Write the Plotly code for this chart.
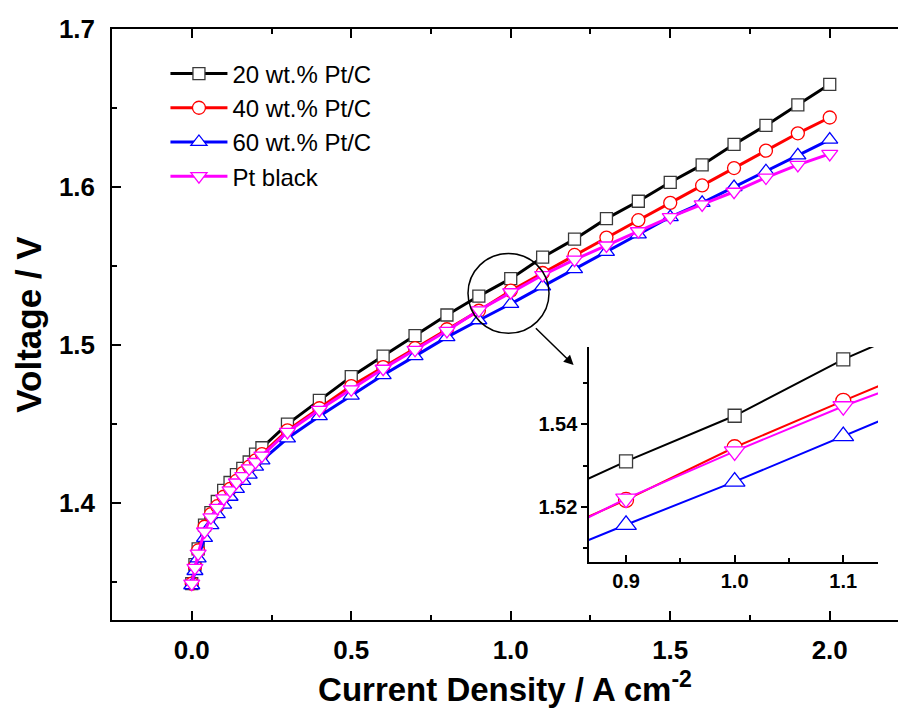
import plotly.graph_objects as go

current = [0, 0.01, 0.02, 0.04, 0.06, 0.08, 0.10, 0.12, 0.14, 0.16, 0.18, 0.20, 0.22,
           0.3, 0.4, 0.5, 0.6, 0.7, 0.8, 0.9, 1.0, 1.1, 1.2, 1.3, 1.4, 1.5, 1.6, 1.7, 1.8, 1.9, 2.0]

v_20 = [1.349, 1.361, 1.371, 1.386, 1.394, 1.401, 1.408, 1.413, 1.418, 1.422, 1.426, 1.431, 1.435,
        1.450, 1.465, 1.480, 1.493, 1.506, 1.519, 1.531, 1.542, 1.5556, 1.567, 1.580, 1.591,
        1.603, 1.614, 1.627, 1.639, 1.652, 1.665]
v_40 = [1.349, 1.360, 1.370, 1.385, 1.393, 1.398, 1.404, 1.409, 1.414, 1.419, 1.423, 1.427, 1.431,
        1.446, 1.460, 1.474, 1.486, 1.498, 1.510, 1.5217, 1.5344, 1.5456, 1.557, 1.568, 1.579,
        1.590, 1.601, 1.612, 1.623, 1.634, 1.644]
v_60 = [1.348, 1.357, 1.365, 1.378, 1.386, 1.393, 1.399, 1.404, 1.409, 1.414, 1.418, 1.423, 1.427,
        1.441, 1.455, 1.468, 1.481, 1.493, 1.505, 1.5157, 1.5261, 1.5371, 1.548, 1.559, 1.570,
        1.581, 1.590, 1.600, 1.610, 1.620, 1.630]
v_ptb = [1.349, 1.359, 1.368, 1.382, 1.391, 1.397, 1.403, 1.408, 1.413, 1.417, 1.422, 1.426, 1.430,
         1.445, 1.459, 1.472, 1.485, 1.497, 1.509, 1.5220, 1.5334, 1.5443, 1.554, 1.563, 1.572,
         1.581, 1.589, 1.597, 1.606, 1.614, 1.621]

names = ["20 wt.% Pt/C", "40 wt.% Pt/C", "60 wt.% Pt/C", "Pt black"]
series = [v_20, v_40, v_60, v_ptb]
colors = ["#000000", "#FF0000", "#0000FF", "#FF00FF"]
edge_colors = ["#3a3a3a", "#FF0000", "#0000FF", "#FF00FF"]
symbols = ["square", "circle", "triangle-up", "triangle-down"]
main_sizes = [12, 13, 14, 14]
inset_sizes = [13, 15, 18, 18]

FONT = "Liberation Sans, Arial, sans-serif"

fig = go.Figure()
for name, vals, col, ec, sym, ms in zip(names, series, colors, edge_colors, symbols, main_sizes):
    fig.add_trace(go.Scatter(
        x=current, y=vals, name=name, mode="lines+markers",
        line=dict(color=col, width=3),
        marker=dict(symbol=sym, size=ms, color="white", line=dict(color=ec, width=1.3)),
        xaxis="x", yaxis="y"))

for name, vals, col, ec, sym, ms in zip(names, series, colors, edge_colors, symbols, inset_sizes):
    fig.add_trace(go.Scatter(
        x=current, y=vals, name=name, mode="lines+markers", showlegend=False,
        line=dict(color=col, width=2),
        marker=dict(symbol=sym, size=ms, color="white", line=dict(color=ec, width=1.3)),
        xaxis="x2", yaxis="y2"))

axis_common = dict(showline=True, linecolor="black", linewidth=1.5, showgrid=False,
                   zeroline=False, ticks="inside", tickcolor="black", tickwidth=1.5,
                   color="black", automargin=False)

fig.update_layout(
    width=898, height=713,
    margin=dict(l=112, r=0, t=29, b=93),
    paper_bgcolor="white", plot_bgcolor="white",
    font=dict(family=FONT, color="black"),
    xaxis=dict(axis_common, range=[-0.25, 2.214], tickvals=[0, 0.5, 1.0, 1.5, 2.0],
               ticktext=["0.0", "0.5", "1.0", "1.5", "2.0"], ticklen=9, mirror="ticks",
               ticklabelstandoff=6,
               minor=dict(dtick=0.25, tick0=0, ticks="inside", ticklen=5, tickcolor="black"),
               tickfont=dict(size=26, family=FONT, weight="bold"),
               title=dict(text="<b>Current Density / A cm<sup>-2</sup></b>",
                          font=dict(size=33, family=FONT), standoff=14)),
    yaxis=dict(axis_common, range=[1.326, 1.7], tickvals=[1.4, 1.5, 1.6, 1.7],
               ticktext=["1.4", "1.5", "1.6", "1.7"], ticklen=9, ticklabelstandoff=10,
               minor=dict(dtick=0.05, tick0=1.35, ticks="inside", ticklen=5, tickcolor="black"),
               tickfont=dict(size=26, family=FONT, weight="bold"),
               title=dict(text="<b>Voltage / V</b>", font=dict(size=35, family=FONT), standoff=7)),
    xaxis2=dict(axis_common, domain=[0.607, 0.9746], anchor="y2", range=[0.866, 1.132],
                tickvals=[0.9, 1.0, 1.1], ticktext=["0.9", "1.0", "1.1"], ticklen=7,
                minor=dict(dtick=0.05, tick0=0.9, ticks="inside", ticklen=4, tickcolor="black"),
                tickfont=dict(size=20, family=FONT, weight="bold")),
    yaxis2=dict(axis_common, domain=[0.098, 0.462], anchor="x2", range=[1.5067, 1.5586],
                tickvals=[1.52, 1.54], ticktext=["1.52", "1.54"], ticks="outside", ticklen=6,
                minor=dict(dtick=0.01, tick0=1.51, ticks="outside", ticklen=4, tickcolor="black"),
                tickfont=dict(size=20, family=FONT, weight="bold")),
    legend=dict(x=0.068, y=0.962, xanchor="left", yanchor="top", bgcolor="rgba(0,0,0,0)",
                font=dict(size=24, family=FONT), tracegroupgap=0, itemwidth=57),
    showlegend=True,
)

# magnifier circle and arrow
fig.add_shape(type="circle", xref="x", yref="y",
              x0=0.993 - 0.127, x1=0.993 + 0.127, y0=1.5327 - 0.0253, y1=1.5327 + 0.0253,
              line=dict(color="black", width=1.5))
fig.add_annotation(x=1.197, y=1.4873, ax=1.074, ay=1.5116, xref="x", yref="y",
                   axref="x", ayref="y", showarrow=True, arrowhead=2, arrowsize=1.3,
                   arrowwidth=1.5, arrowcolor="black", text="")

fig.write_html("out.html", config={"displayModeBar": False},
               post_script="document.body.style.margin='0';document.body.style.overflow='hidden';")
